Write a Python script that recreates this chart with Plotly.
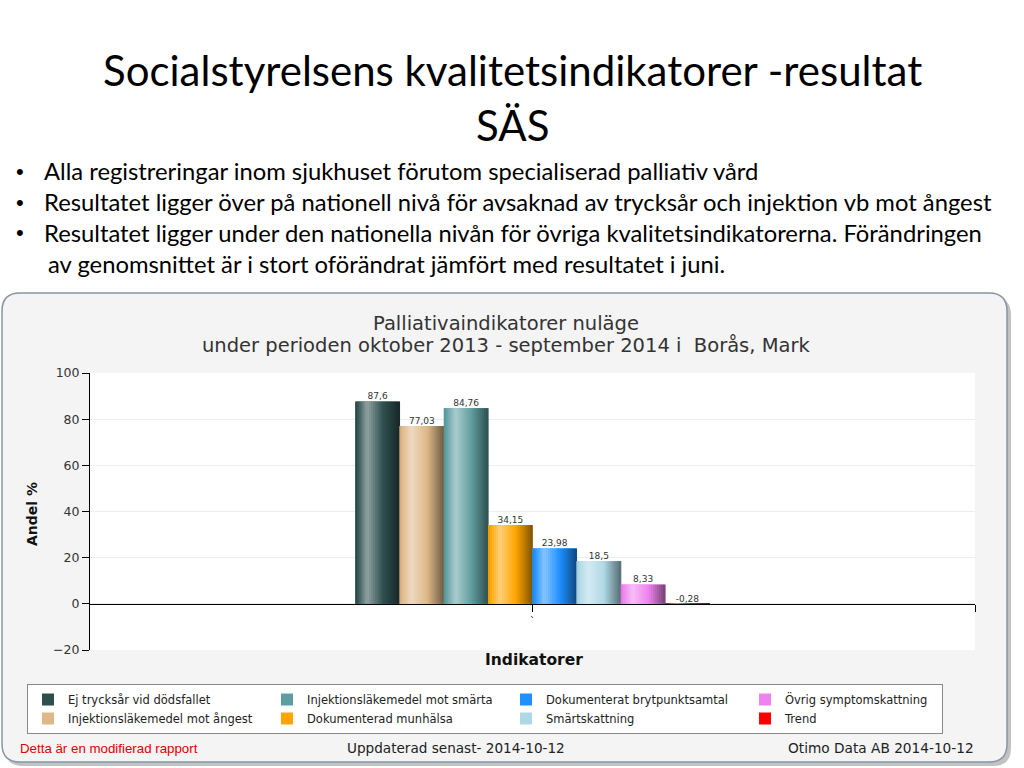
import plotly.graph_objects as go

# ---------------- data ----------------
series_names = [
    "Ej trycksår vid dödsfallet",
    "Injektionsläkemedel mot ångest",
    "Injektionsläkemedel mot smärta",
    "Dokumenterad munhälsa",
    "Dokumenterat brytpunktsamtal",
    "Smärtskattning",
    "Övrig symptomskattning",
    "Trend",
]
values = [87.6, 77.03, 84.76, 34.15, 23.98, 18.5, 8.33, -0.28]
value_labels = ["87,6", "77,03", "84,76", "34,15", "23,98", "18,5", "8,33", "-0,28"]
legend_rank = [1, 5, 2, 6, 3, 7, 4, 8]
category_label = "`"
y_ticks = [-20, 0, 20, 40, 60, 80, 100]

slide_title = ["Socialstyrelsens kvalitetsindikatorer -resultat", "SÄS"]
bullets = [
    "Alla registreringar inom sjukhuset förutom specialiserad palliativ vård",
    "Resultatet ligger över på nationell nivå för avsaknad av trycksår och injektion vb mot ångest",
    "Resultatet ligger under den nationella nivån för övriga kvalitetsindikatorerna. Förändringen",
]
bullet_cont = "av genomsnittet är i stort oförändrat jämfört med resultatet i juni."
chart_title = ["Palliativaindikatorer nuläge",
               "under perioden oktober 2013 - september 2014 i  Borås, Mark"]
x_title = "Indikatorer"
y_title = "Andel %"
footer_left = "Detta är en modifierad rapport"
footer_mid = "Uppdaterad senast- 2014-10-12"
footer_right = "Otimo Data AB 2014-10-12"

# ---------------- style ----------------
colors = ["#2F4F4F", "#DEB887", "#5F9EA0", "#FFA500",
          "#1E90FF", "#ADD8E6", "#EE82EE", "#FF0000"]
N_STRIPS = 22

W_FIG, H_FIG = 1024, 768
PL, PR, PT, PB = 90, 975, 373, 650
PW, PH = PR - PL, PB - PT


def px(x):
    return (x - PL) / PW


def py(y):
    return (PB - y) / PH


def hex2rgb(h):
    h = h.lstrip("#")
    return [int(h[i:i + 2], 16) for i in (0, 2, 4)]


def shade(h, s):
    r = hex2rgb(h)
    if s >= 0:
        r = [c + (255 - c) * s for c in r]
    else:
        r = [c * (1 + s) for c in r]
    return "rgb(%d,%d,%d)" % tuple(int(round(c)) for c in r)


def profile(t):
    # lighting of a cylinder-like bar: left a bit dark, highlight ~27%, dark right
    pts = [(0.0, -0.1), (0.27, 0.48), (1.0, -0.5)]
    for (t0, s0), (t1, s1) in zip(pts[:-1], pts[1:]):
        if t0 <= t <= t1:
            return s0 + (s1 - s0) * (t - t0) / (t1 - t0)
    return pts[-1][1]


fig = go.Figure()

for i, (name, v, c) in enumerate(zip(series_names, values, colors)):
    lw = 152 if legend_rank[i] in (4, 8) else None
    fig.add_trace(go.Bar(
        x=[i], y=[v], width=1, name=name, marker=dict(color=c, line=dict(width=0)),
        legendrank=legend_rank[i], legendwidth=lw, hoverinfo="skip"))
    xs = [i - 0.5 + (k + 0.5) / N_STRIPS for k in range(N_STRIPS)]
    cs = [shade(c, profile((k + 0.5) / N_STRIPS)) for k in range(N_STRIPS)]
    fig.add_trace(go.Bar(
        x=xs, y=[v] * N_STRIPS, width=1.0 / N_STRIPS * 1.3, showlegend=False,
        marker=dict(color=cs, line=dict(width=0)), hoverinfo="skip"))

fig.add_trace(go.Scatter(
    x=list(range(len(values))), y=[max(v, 0) for v in values], text=value_labels,
    mode="text", textposition="top center", showlegend=False, cliponaxis=False,
    textfont=dict(family="DejaVu Sans", size=9, color="#333333"), hoverinfo="skip"))

n = len(values)
center = (n - 1) / 2
half_span = 10


# ---------------- decoration shapes ----------------
def rounded_path(x0, y0, x1, y1, r):
    rx, ry = r / PW, r / PH
    X0, X1 = px(x0), px(x1)
    Y0, Y1 = py(y0), py(y1)
    return (f"M{X0+rx},{Y0} L{X1-rx},{Y0} Q{X1},{Y0} {X1},{Y0-ry} "
            f"L{X1},{Y1+ry} Q{X1},{Y1} {X1-rx},{Y1} L{X0+rx},{Y1} "
            f"Q{X0},{Y1} {X0},{Y1+ry} L{X0},{Y0-ry} Q{X0},{Y0} {X0+rx},{Y0} Z")


shapes = [
    dict(type="path", xref="paper", yref="paper", layer="below",
         path=rounded_path(5, 297, 1011, 766, 18),
         fillcolor="rgba(120,120,120,0.45)", line=dict(width=0)),
    dict(type="path", xref="paper", yref="paper", layer="below",
         path=rounded_path(2, 293, 1007, 762, 18),
         fillcolor="#f4f4f4", line=dict(color="#8795a6", width=1.5)),
    dict(type="rect", xref="paper", yref="paper", layer="below",
         x0=0, x1=1, y0=0, y1=1, fillcolor="white", line=dict(width=0)),
]

ann = []
SLIDE_FONT = "Lato"
for j, t in enumerate(slide_title):
    ann.append(dict(text=t, x=px(512), y=py([70, 125][j]), xanchor="center", yanchor="middle",
                    font=dict(family=SLIDE_FONT, size=42, color="#000000")))
for j, t in enumerate(bullets):
    yy = 171 + 31 * j
    ann.append(dict(text="•", x=px(14), y=py(yy), xanchor="left", yanchor="middle",
                    font=dict(family="Liberation Sans", size=22, color="#000000")))
    ann.append(dict(text=t, x=px(42), y=py(yy), xanchor="left", yanchor="middle",
                    font=dict(family=SLIDE_FONT, size=23.8, color="#000000")))
ann.append(dict(text=bullet_cont, x=px(46), y=py(264), xanchor="left", yanchor="middle",
                font=dict(family=SLIDE_FONT, size=23.8, color="#000000")))

for j, t in enumerate(chart_title):
    ann.append(dict(text=t, x=px(506), y=py([323, 345][j]), xanchor="center", yanchor="middle",
                    font=dict(family="DejaVu Sans", size=19.5, color="#333333")))
ann.append(dict(text="<b>%s</b>" % x_title, x=px(534), y=py(660), xanchor="center", yanchor="middle",
                font=dict(family="DejaVu Sans", size=15.5, color="#111111")))
ann.append(dict(text="<b>%s</b>" % y_title, x=px(32), y=py(514), xanchor="center", yanchor="middle",
                textangle=-90, font=dict(family="DejaVu Sans", size=14, color="#111111")))
ann.append(dict(text=footer_left, x=px(18), y=py(748), xanchor="left", yanchor="middle",
                font=dict(family="Liberation Sans", size=13.3, color="#e00000")))
ann.append(dict(text=footer_mid, x=px(345), y=py(748), xanchor="left", yanchor="middle",
                font=dict(family="DejaVu Sans", size=13.6, color="#222222")))
ann.append(dict(text=footer_right, x=px(976), y=py(748), xanchor="right", yanchor="middle",
                font=dict(family="DejaVu Sans", size=13.7, color="#222222")))
for a in ann:
    a.update(xref="paper", yref="paper", showarrow=False)

fig.update_layout(
    width=W_FIG, height=H_FIG,
    margin=dict(l=PL, r=W_FIG - PR, t=PT, b=H_FIG - PB, pad=0),
    paper_bgcolor="white", plot_bgcolor="white",
    barmode="overlay",
    shapes=shapes, annotations=ann,
    showlegend=True,
    legend=dict(orientation="h", x=px(27), y=py(684), xanchor="left", yanchor="top",
                bgcolor="white", bordercolor="#888888", borderwidth=1,
                entrywidth=194, entrywidthmode="pixels", traceorder="normal",
                font=dict(family="DejaVu Sans", size=11.5, color="#222222"),
                tracegroupgap=0),
    xaxis=dict(range=[center - half_span, center + half_span], anchor="free",
               position=(0 - y_ticks[0]) / (y_ticks[-1] - y_ticks[0]),
               showgrid=False, zeroline=False, showline=True, linecolor="#000000", linewidth=1,
               tickmode="array", tickvals=[center, center + half_span],
               ticktext=[category_label, ""], ticks="outside", ticklen=7, tickcolor="#000000",
               tickfont=dict(family="DejaVu Sans", size=11, color="#333333"), fixedrange=True),
    yaxis=dict(range=[y_ticks[0], y_ticks[-1]], tickmode="array", tickvals=y_ticks,
               showgrid=True, gridcolor="#eeeeee", zeroline=False,
               showline=True, linecolor="#000000", linewidth=1,
               ticks="outside", ticklen=7, tickcolor="#000000",
               tickfont=dict(family="DejaVu Sans", size=12.5, color="#333333"), fixedrange=True),
)

fig.write_html("out.html", config={"displayModeBar": False},
               post_script="document.body.style.margin='0px';")
